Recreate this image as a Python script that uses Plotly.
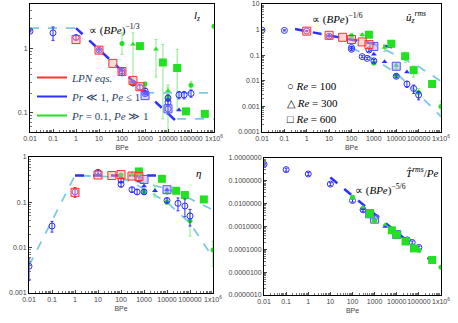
import plotly.graph_objects as go
from plotly.subplots import make_subplots

# x tick labels shared by all panels
bpe_ticks = [0.01, 0.1, 1, 10, 100, 1000, 10000, 100000, 1e6]
bpe_labels = ["0.01", "0.1", "1", "10", "100", "1000", "10000", "100000", "1x10<sup>6</sup>"]

# ---------- panel 1 : l_z ----------
lz_bc_x = [0.01, 0.1, 1, 10, 100, 100, 300, 600, 1000, 1000, 10000, 10000, 10000, 30000, 50000, 100000]
lz_bc_y = [1.88, 1.77, 1.5, 0.95, 0.45, 0.42, 0.29, 0.25, 0.22, 0.2, 0.17, 0.145, 0.115, 0.19, 0.19, 0.2]
lz_bc_e = [0.05, 0.42, 0.12, 0.06, 0.04, 0.03, 0.02, 0.02, 0.02, 0.02, 0.02, 0.02, 0.02, 0.025, 0.025, 0.025]
lz_bt_x = [10, 100, 300, 1000, 30000]
lz_bt_y = [0.97, 0.46, 0.3, 0.2, 0.11]
lz_bs_x = [1000, 10000]
lz_bs_y = [0.185, 0.115]
lz_rs_x = [1, 10, 40, 100, 300, 600]
lz_rs_y = [1.39, 0.95, 0.59, 0.44, 0.32, 0.255]
lz_gc_x = [100, 1000, 10000, 100000, 1e6]
lz_gc_y = [1.21, 0.28, 0.17, 0.27, 2.24]
lz_gc_ep = [0.56, 0.02, 0.08, 0.04, 0]
lz_gc_em = [0.39, 0.02, 0.13, 0.04, 0]
lz_gt_x = [300, 3000, 10000]
lz_gt_y = [1.17, 0.98, 0.22]
lz_gt_ep = [0.6, 0.41, 0.05]
lz_gt_em = [0.87, 0.62, 0.05]
lz_gs_x = [600, 6000, 25000, 60000, 400000]
lz_gs_y = [1.1, 0.61, 0.5, 0.105, 0.096]
lz_gs_ep = [0, 0.56, 0.48, 0, 0]
lz_gs_em = [0, 0.53, 0.39, 0, 0]
lz_fit_x = [1, 35000]
lz_fit_y = [2.1, 0.064]
lz_ref_x = [0.01, 1, None, 1000, 1e6, None, 25000, 1e6]
lz_ref_y = [2.1, 2.1, None, 0.205, 0.205, None, 0.08, 0.08]

# ---------- panel 2 : u_z rms ----------
uz_bc_x = [0.01, 0.1, 1, 10, 100, 100, 300, 500, 600, 1000, 10000, 30000, 60000, 100000]
uz_bc_y = [0.95, 0.93, 0.88, 0.55, 0.2, 0.17, 0.088, 0.075, 0.16, 0.06, 0.015, 0.0075, 0.005, 0.0028]
uz_bc_e = [0.05, 0.05, 0.05, 0.04, 0.02, 0.02, 0.008, 0.007, 0.02, 0.008, 0.002, 0.002, 0.0018, 0.001]
uz_bt_x = [10, 1000, 3000, 30000]
uz_bt_y = [0.58, 0.11, 0.055, 0.022]
uz_bs_x = [1000, 10000]
uz_bs_y = [0.22, 0.037]
uz_rs_x = [1, 10, 40, 100, 300, 600]
uz_rs_y = [0.87, 0.6, 0.5, 0.41, 0.33, 0.26]
uz_gc_x = [100, 1000, 10000, 100000, 1e6]
uz_gc_y = [0.57, 0.05, 0.016, 0.0035, 0.001]
uz_gc_e = [0.1, 0.008, 0.003, 0.0015, 0.0006]
uz_gt_x = [300, 3000, 10000]
uz_gt_y = [0.63, 0.2, 0.04]
uz_gt_e = [0.08, 0.06, 0.01]
uz_gs_x = [600, 6000, 25000, 60000, 400000]
uz_gs_y = [0.63, 0.28, 0.091, 0.026, 0.0075]
uz_gs_e = [0, 0.05, 0.04, 0.012, 0]
uz_fit_x = [0.3, 10000]
uz_fit_y = [1.05, 0.19]
uz_up_x = [100, 1000, 10000, 100000, 1e6]
uz_up_y = [0.45, 0.27, 0.1, 0.036, 0.0095]
uz_lo_x = [100, 1000, 10000, 100000, 1e6]
uz_lo_y = [0.2, 0.07, 0.02, 0.003, 0.0004]

# ---------- panel 3 : eta ----------
eta_bc_x = [0.01, 0.1, 1, 10, 100, 100, 300, 500, 600, 1000, 10000, 30000, 60000, 100000]
eta_bc_y = [0.0039, 0.03, 0.17, 0.46, 0.31, 0.25, 0.19, 0.17, 0.33, 0.17, 0.11, 0.095, 0.083, 0.05]
eta_bc_e = [0.002, 0.008, 0.04, 0.04, 0.04, 0.03, 0.02, 0.02, 0.03, 0.02, 0.01, 0.03, 0.035, 0.02]
eta_bt_x = [10, 1000, 3000, 10000]
eta_bt_y = [0.4, 0.23, 0.18, 0.19]
eta_bs_x = [1000, 10000]
eta_bs_y = [0.32, 0.19]
eta_rs_x = [1, 10, 40, 100, 300, 600]
eta_rs_y = [0.166, 0.4, 0.39, 0.41, 0.38, 0.37]
eta_gc_x = [100, 1000, 10000, 100000, 1e6]
eta_gc_y = [0.4, 0.17, 0.1, 0.039, 0.0089]
eta_gc_e = [0.03, 0.02, 0.01, 0.021, 0.005]
eta_gt_x = [300, 3000, 10000]
eta_gt_y = [0.42, 0.18, 0.17]
eta_gt_e = [0.05, 0.05, 0.02]
eta_gs_x = [600, 6000, 25000, 60000, 400000]
eta_gs_y = [0.48, 0.33, 0.18, 0.145, 0.116]
eta_fit_x = [1, 6000]
eta_fit_y = [0.39, 0.39]
eta_up_x = [0.01, 1, 30, 1000, 10000, 100000, 1e6]
eta_up_y = [0.004, 0.39, 0.37, 0.27, 0.2, 0.12, 0.068]
eta_lo_x = [100, 1000, 10000, 100000, 1e6]
eta_lo_y = [0.36, 0.2, 0.1, 0.035, 0.006]

# ---------- panel 4 : T rms / Pe ----------
tp_bc_x = [0.01, 0.1, 1, 10, 100, 300, 1000, 30000, 50000, 100000]
tp_bc_y = [0.53, 0.31, 0.2, 0.072, 0.0138, 0.0054, 0.0026, 0.00026, 0.0002, 0.00012]
tp_bt_x = [300, 3000]
tp_bt_y = [0.006, 0.001]
tp_bs_x = [600, 1000, 10000]
tp_bs_y = [0.0036, 0.0021, 0.00044]
tp_gc_x = [100, 1000, 100000, 1e6]
tp_gc_y = [0.019, 0.0018, 0.000092, 1.66e-5]
tp_gt_x = [300, 3000]
tp_gt_y = [0.007, 0.0012]
tp_gs_x = [600, 6000, 10000, 25000, 60000, 400000]
tp_gs_y = [0.0036, 0.00068, 0.00044, 0.00022, 0.00011, 3.4e-5]
tp_fit_x = [10, 400000]
tp_fit_y = [0.14, 2.9e-5]

BLUE = "#2f2fff"
RED = "#ff3030"
GREEN = "#22e022"
LBLUE = "#7ec8e3"

styles = {
    "bc": dict(symbol="circle-open", size=6, color=BLUE, line=dict(width=1, color=BLUE)),
    "bt": dict(symbol="triangle-up", size=5, color=BLUE),
    "bs": dict(symbol="square", size=8, color="rgba(160,160,255,0.45)", line=dict(width=1, color="#5050ff")),
    "rs": dict(symbol="square", size=8, color="rgba(255,170,170,0.45)", line=dict(width=1, color=RED)),
    "gc": dict(symbol="circle", size=5, color=GREEN),
    "gt": dict(symbol="triangle-up", size=5, color=GREEN),
    "gs": dict(symbol="square", size=8, color=GREEN),
}

fig = make_subplots(rows=2, cols=2)


def pts(x, y, kind, row, col, ep=None, em=None):
    err = None
    if ep is not None:
        ecol = BLUE if kind[0] == "b" else "#8be98b"
        err = dict(type="data", array=ep, arrayminus=em if em is not None else ep,
                   color=ecol, thickness=1, width=1.5)
    fig.add_trace(go.Scatter(x=x, y=y, mode="markers", marker=styles[kind],
                             error_y=err, showlegend=False), row=row, col=col)


def line(x, y, color, width, row, col):
    fig.add_trace(go.Scatter(x=x, y=y, mode="lines", line=dict(color=color, width=width, dash="dash"),
                             showlegend=False, connectgaps=False), row=row, col=col)


# panel 1
line(lz_ref_x, lz_ref_y, LBLUE, 1.8, 1, 1)
line(lz_fit_x, lz_fit_y, BLUE, 2.5, 1, 1)
pts(lz_gc_x, lz_gc_y, "gc", 1, 1, lz_gc_ep, lz_gc_em)
pts(lz_gt_x, lz_gt_y, "gt", 1, 1, lz_gt_ep, lz_gt_em)
pts(lz_gs_x, lz_gs_y, "gs", 1, 1, lz_gs_ep, lz_gs_em)
pts(lz_bc_x, lz_bc_y, "bc", 1, 1, lz_bc_e)
pts(lz_bt_x, lz_bt_y, "bt", 1, 1)
pts(lz_bs_x, lz_bs_y, "bs", 1, 1)
pts(lz_rs_x, lz_rs_y, "rs", 1, 1)

# panel 2
line(uz_up_x, uz_up_y, LBLUE, 1.8, 1, 2)
line(uz_lo_x, uz_lo_y, LBLUE, 1.8, 1, 2)
line(uz_fit_x, uz_fit_y, BLUE, 2.5, 1, 2)
pts(uz_gc_x, uz_gc_y, "gc", 1, 2, uz_gc_e)
pts(uz_gt_x, uz_gt_y, "gt", 1, 2, uz_gt_e)
pts(uz_gs_x, uz_gs_y, "gs", 1, 2, uz_gs_e)
pts(uz_bc_x, uz_bc_y, "bc", 1, 2, uz_bc_e)
pts(uz_bt_x, uz_bt_y, "bt", 1, 2)
pts(uz_bs_x, uz_bs_y, "bs", 1, 2)
pts(uz_rs_x, uz_rs_y, "rs", 1, 2)

# panel 3
line(eta_up_x, eta_up_y, LBLUE, 1.8, 2, 1)
line(eta_lo_x, eta_lo_y, LBLUE, 1.8, 2, 1)
line(eta_fit_x, eta_fit_y, BLUE, 2.5, 2, 1)
pts(eta_gc_x, eta_gc_y, "gc", 2, 1, eta_gc_e)
pts(eta_gt_x, eta_gt_y, "gt", 2, 1, eta_gt_e)
pts(eta_gs_x, eta_gs_y, "gs", 2, 1)
pts(eta_bc_x, eta_bc_y, "bc", 2, 1, eta_bc_e)
pts(eta_bt_x, eta_bt_y, "bt", 2, 1)
pts(eta_bs_x, eta_bs_y, "bs", 2, 1)
pts(eta_rs_x, eta_rs_y, "rs", 2, 1)

# panel 4
line(tp_fit_x, tp_fit_y, BLUE, 2.5, 2, 2)
pts(tp_bc_x, tp_bc_y, "bc", 2, 2, [v * 0.15 for v in tp_bc_y])
pts(tp_bt_x, tp_bt_y, "bt", 2, 2)
pts(tp_bs_x, tp_bs_y, "bs", 2, 2)
pts(tp_gc_x, tp_gc_y, "gc", 2, 2)
pts(tp_gt_x, tp_gt_y, "gt", 2, 2)
pts(tp_gs_x, tp_gs_y, "gs", 2, 2)

# legend entries (lines)
for i, (name, col) in enumerate([("<i>LPN eqs.</i>", RED), ("<i>Pr</i> ≪ 1, <i>Pe</i> ≤ 1", BLUE),
                                 ("<i>Pr</i> = 0.1, <i>Pe</i> ≫ 1", GREEN)]):
    fig.add_trace(go.Scatter(x=[None], y=[None], mode="lines", name=name, legendgroup="g%d" % i,
                             line=dict(color=col, width=2)), row=1, col=1)

tick_font = dict(family="Liberation Sans Narrow, Liberation Sans", size=7, color="#444")
xcommon = dict(type="log", range=[-2, 6], tickvals=bpe_ticks, ticktext=bpe_labels, tickangle=0,
               automargin=False,
               showgrid=False, zeroline=False, showline=True, linecolor="black", linewidth=1,
               mirror=True, ticks="inside", ticklen=3, tickcolor="#444", tickfont=tick_font,
               title=dict(text="BPe", font=tick_font, standoff=3),
               minor=dict(ticks="inside", ticklen=2, tickcolor="#777", dtick="D1"))
ycommon = dict(type="log", showgrid=False, zeroline=False, showline=True, linecolor="black",
               linewidth=1, mirror=True, ticks="inside", ticklen=3, tickcolor="#444",
               tickfont=tick_font, tickangle=0, automargin=False,
               minor=dict(ticks="inside", ticklen=2, tickcolor="#777", dtick="D1"))

doms = {
    1: ([30 / 458, 214 / 458], [1 - 132 / 323, 1 - 4 / 323]),
    2: ([262 / 458, 441 / 458], [1 - 132 / 323, 1 - 4 / 323]),
    3: ([29 / 458, 213 / 458], [1 - 293 / 323, 1 - 157 / 323]),
    4: ([264 / 458, 441 / 458], [1 - 295 / 323, 1 - 158 / 323]),
}
yspecs = {
    1: dict(range=[-1.301, 0.699], tickvals=[0.1, 1], ticktext=["0.1", "1"]),
    2: dict(range=[-4, 1], tickvals=[1e-4, 1e-3, 1e-2, 0.1, 1, 10],
            ticktext=["0.0001", "0.001", "0.01", "0.1", "1", "10"]),
    3: dict(range=[-3, 0], tickvals=[1e-3, 1e-2, 0.1, 1], ticktext=["0.001", "0.01", "0.1", "1"]),
    4: dict(range=[-6, 0], tickvals=[1e-6, 1e-5, 1e-4, 1e-3, 1e-2, 0.1, 1],
            ticktext=["0.0000010", "0.0000100", "0.0001000", "0.0010000", "0.0100000",
                      "0.1000000", "1.0000000"]),
}
for i in range(1, 5):
    sfx = "" if i == 1 else str(i)
    xd, yd = doms[i]
    fig.update_layout(**{"xaxis" + sfx: dict(xcommon, domain=xd),
                         "yaxis" + sfx: dict(ycommon, domain=yd, **yspecs[i])})

mfont = dict(family="Liberation Serif", size=11, color="black")
notes = [
    ("x", "y", 0.31, 0.80, "∝ (<i>BPe</i>)<sup>−1/3</sup>", "left"),
    ("x", "y", 0.91, 0.91, "<i>l<sub>z</sub></i>", "center"),
    ("x2", "y2", 0.27, 0.89, "∝ (<i>BPe</i>)<sup>−1/6</sup>", "left"),
    ("x2", "y2", 0.86, 0.90, "<i>û<sub>z</sub><sup>rms</sup></i>", "center"),
    ("x2", "y2", 0.13, 0.36, "○ <i>Re</i> = 100", "left"),
    ("x2", "y2", 0.13, 0.23, "△ <i>Re</i> = 300", "left"),
    ("x2", "y2", 0.13, 0.10, "□ <i>Re</i> = 600", "left"),
    ("x3", "y3", 0.92, 0.88, "<i>η</i>", "center"),
    ("x4", "y4", 0.89, 0.90, "<i>T̂<sup>rms</sup></i>/<i>Pe</i>", "center"),
    ("x4", "y4", 0.50, 0.77, "∝ (<i>BPe</i>)<sup>−5/6</sup>", "left"),
]
for xr, yr, xx, yy, txt, anc in notes:
    fig.add_annotation(xref=xr + " domain", yref=yr + " domain", x=xx, y=yy, text=txt,
                       showarrow=False, xanchor=anc, yanchor="middle", font=mfont)

fig.update_layout(
    width=458, height=323, margin=dict(l=0, r=0, t=0, b=0, autoexpand=False),
    paper_bgcolor="white", plot_bgcolor="white",
    showlegend=True,
    legend=dict(x=32 / 458, y=1 - 63 / 323, xanchor="left", yanchor="top",
                bgcolor="rgba(0,0,0,0)", font=dict(family="Liberation Serif", size=11),
                tracegroupgap=0, itemwidth=30),
)

# page body has a default margin; drop it so the figure sits at the window corner
fig.write_html("out.html", config={"displayModeBar": False},
               post_script="document.body.style.margin='0px';")
